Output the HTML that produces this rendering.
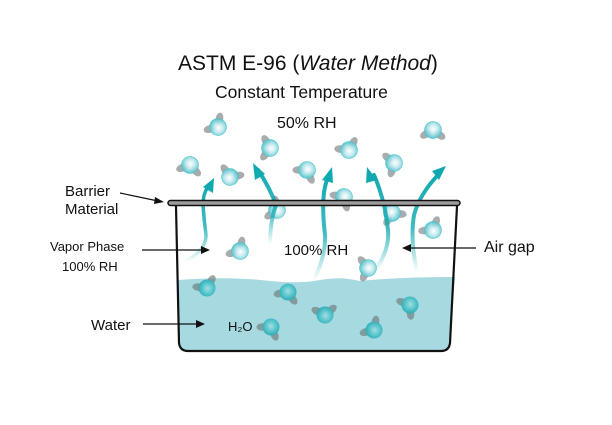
<!DOCTYPE html>
<html><head><meta charset="utf-8"><style>
html,body{margin:0;padding:0;background:#fff;}
svg{display:block;font-family:"Liberation Sans",sans-serif;}
</style></head><body>
<svg width="612" height="425" viewBox="0 0 612 425" xmlns="http://www.w3.org/2000/svg">
<defs>
<radialGradient id="ma" cx="0.55" cy="0.45" r="0.6">
<stop offset="0" stop-color="#ffffff"/><stop offset="0.45" stop-color="#bfe9ee"/><stop offset="1" stop-color="#3cbcc6"/>
</radialGradient>
<radialGradient id="mw" cx="0.5" cy="0.45" r="0.6">
<stop offset="0" stop-color="#9fdfe4"/><stop offset="0.6" stop-color="#4cc0c8"/><stop offset="1" stop-color="#1fa8b2"/>
</radialGradient>
<linearGradient id="ag" x1="0" y1="1" x2="0" y2="0">
<stop offset="0" stop-color="#10a9b0" stop-opacity="0"/><stop offset="0.45" stop-color="#10a9b0" stop-opacity="0.8"/><stop offset="1" stop-color="#10a9b0"/>
</linearGradient>
<g id="a"><ellipse cx="-8.5" cy="0" rx="6" ry="3.8" fill="#7a7f7f" opacity="0.65"/><ellipse cx="3.5" cy="8" rx="6" ry="3.8" transform="rotate(65 3.5 8)" fill="#7a7f7f" opacity="0.65"/><circle r="8.5" fill="url(#ma)" stroke="#4cc3cb" stroke-width="0.6" opacity="0.92"/></g>
<g id="w"><ellipse cx="-8.5" cy="0" rx="6" ry="3.8" fill="#6f7b7b" opacity="0.65"/><ellipse cx="3.5" cy="8" rx="6" ry="3.8" transform="rotate(65 3.5 8)" fill="#6f7b7b" opacity="0.65"/><circle r="8.5" fill="url(#mw)" opacity="0.95"/></g>
</defs>

<path d="M178,280 Q230,276 270,281 Q300,284 320,280 Q340,276 360,281 Q400,277 455,277 L450,343 Q449,351 441,351 L187,351 Q180,351 179,343 Z" fill="#a7d9e0"/>

<path d="M176,206 L179,343 Q180,351 188,351 L441,351 Q449,351 450,343 L457,206" fill="none" stroke="#111" stroke-width="2.2"/>

<use href="#a" transform="translate(218,127) rotate(100)"/>
<use href="#a" transform="translate(190,165) rotate(-20)"/>
<use href="#a" transform="translate(230,177) rotate(170)"/>
<use href="#a" transform="translate(270,148) rotate(60)"/>
<use href="#a" transform="translate(307,170) rotate(0)"/>
<use href="#a" transform="translate(349,150) rotate(120)"/>
<use href="#a" transform="translate(394,163) rotate(40)"/>
<use href="#a" transform="translate(433,130) rotate(-30)"/>
<use href="#a" transform="translate(344,197) rotate(10)"/>
<use href="#a" transform="translate(277,210) rotate(80)"/>
<use href="#a" transform="translate(392,213) rotate(-60)"/>
<use href="#a" transform="translate(433,230) rotate(110)"/>
<use href="#a" transform="translate(240,251) rotate(100)"/>
<use href="#a" transform="translate(368,268) rotate(50)"/>

<use href="#w" transform="translate(207,288) rotate(120)"/>
<use href="#w" transform="translate(288,292) rotate(-10)"/>
<use href="#w" transform="translate(410,305) rotate(20)"/>
<use href="#w" transform="translate(325,315) rotate(140)"/>
<use href="#w" transform="translate(271,327) rotate(0)"/>
<use href="#w" transform="translate(374,330) rotate(100)"/>

<g fill="none" stroke="url(#ag)" stroke-width="4" stroke-linecap="round">
<path d="M183,262 Q206,252 206,235 Q204,220 203,205 Q203,192 210,184" stroke-width="3.5"/>
<path d="M270,244 Q270,222 276,205 Q270,188 258,170"/>
<path d="M314,280 Q326,255 325,235 Q322,210 324,192 Q326,180 330,173"/>
<path d="M374,272 Q390,250 388,230 Q385,200 374,175"/>
<path d="M417,272 Q410,240 414,215 Q420,193 440,173"/>
</g>
<g fill="#10a9b0">
<polygon points="214,178 213,193 203,187"/>
<polygon points="253,163 255,180 265,174"/>
<polygon points="332,167 322,180 333,183"/>
<polygon points="367,167 366,183 377,180"/>
<polygon points="446,166 432,171 439,180"/>
</g>

<rect x="168" y="200.5" width="292" height="5" rx="2.5" fill="#9c9c9c" stroke="#111" stroke-width="1.5"/>

<g fill="#111">
<text x="178" y="70" font-size="21">ASTM E-96  (<tspan font-style="italic">Water Method</tspan>)</text>
<text x="215" y="98" font-size="17.5">Constant Temperature</text>
<text x="277" y="128" font-size="16">50% RH</text>
<text x="65" y="196" font-size="15">Barrier</text>
<text x="65" y="214" font-size="15">Material</text>
<text x="50" y="251" font-size="13">Vapor Phase</text>
<text x="62" y="271" font-size="13">100% RH</text>
<text x="284" y="255" font-size="15">100% RH</text>
<text x="484" y="252" font-size="16">Air gap</text>
<text x="91" y="330" font-size="15">Water</text>
<text x="228" y="331" font-size="13">H₂O</text>
</g>

<g stroke="#111" stroke-width="1.2" fill="none">
<line x1="120" y1="193" x2="158" y2="201"/>
<line x1="142" y1="250" x2="203" y2="250"/>
<line x1="476" y1="248" x2="409" y2="248"/>
<line x1="143" y1="324" x2="198" y2="324"/>
</g>
<g fill="#111">
<polygon points="164,202 155,197 154,204"/>
<polygon points="210,250 201,246 201,254"/>
<polygon points="402,248 411,244 411,252"/>
<polygon points="205,324 196,320 196,328"/>
</g>
</svg>
</body></html>
